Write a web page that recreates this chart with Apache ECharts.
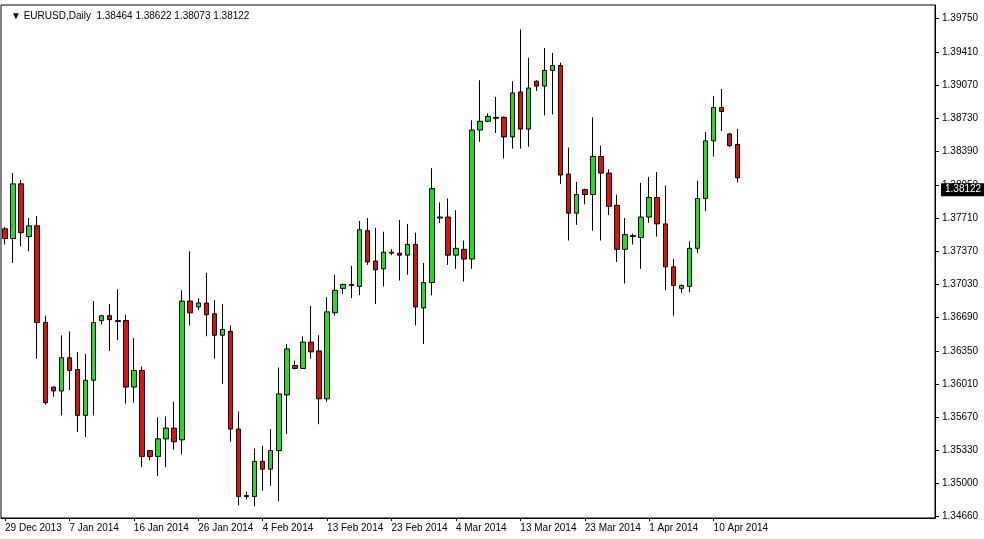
<!DOCTYPE html>
<html><head><meta charset="utf-8">
<script src="https://cdn.jsdelivr.net/npm/echarts@6/dist/echarts.min.js"></script>
<style>html,body{margin:0;padding:0;background:#fff}#c{width:984px;height:539px}</style>
</head><body><div id="c"></div>
<script>
const dates = ["29 Dec 2013","30 Dec 2013","31 Dec 2013","1 Jan 2014","2 Jan 2014","3 Jan 2014","5 Jan 2014","6 Jan 2014","7 Jan 2014","8 Jan 2014","9 Jan 2014","10 Jan 2014","12 Jan 2014","13 Jan 2014","14 Jan 2014","15 Jan 2014","16 Jan 2014","17 Jan 2014","19 Jan 2014","20 Jan 2014","21 Jan 2014","22 Jan 2014","23 Jan 2014","24 Jan 2014","26 Jan 2014","27 Jan 2014","28 Jan 2014","29 Jan 2014","30 Jan 2014","31 Jan 2014","2 Feb 2014","3 Feb 2014","4 Feb 2014","5 Feb 2014","6 Feb 2014","7 Feb 2014","9 Feb 2014","10 Feb 2014","11 Feb 2014","12 Feb 2014","13 Feb 2014","14 Feb 2014","16 Feb 2014","17 Feb 2014","18 Feb 2014","19 Feb 2014","20 Feb 2014","21 Feb 2014","23 Feb 2014","24 Feb 2014","25 Feb 2014","26 Feb 2014","27 Feb 2014","28 Feb 2014","2 Mar 2014","3 Mar 2014","4 Mar 2014","5 Mar 2014","6 Mar 2014","7 Mar 2014","9 Mar 2014","10 Mar 2014","11 Mar 2014","12 Mar 2014","13 Mar 2014","14 Mar 2014","16 Mar 2014","17 Mar 2014","18 Mar 2014","19 Mar 2014","20 Mar 2014","21 Mar 2014","23 Mar 2014","24 Mar 2014","25 Mar 2014","26 Mar 2014","27 Mar 2014","28 Mar 2014","30 Mar 2014","31 Mar 2014","1 Apr 2014","2 Apr 2014","3 Apr 2014","4 Apr 2014","6 Apr 2014","7 Apr 2014","8 Apr 2014","9 Apr 2014","10 Apr 2014","11 Apr 2014","13 Apr 2014","14 Apr 2014"];
const opens  = [1.3760,1.3750,1.3806,1.3752,1.3763,1.3664,1.3598,1.3594,1.3628,1.3616,1.3569,1.3605,1.3666,1.3671,1.3666,1.3666,1.3598,1.3615,1.3533,1.3527,1.3545,1.3556,1.3544,1.3686,1.3680,1.3684,1.3673,1.3651,1.3655,1.3555,1.3486,1.3486,1.3522,1.3514,1.3533,1.3590,1.3620,1.3617,1.3644,1.3635,1.3586,1.3674,1.3699,1.3703,1.3701,1.3758,1.3727,1.3719,1.3735,1.3735,1.3733,1.3744,1.3679,1.3705,1.3771,1.3772,1.3733,1.3739,1.3729,1.3861,1.3870,1.3874,1.3874,1.3854,1.3900,1.3862,1.3911,1.3906,1.3922,1.3927,1.3816,1.3776,1.3800,1.3795,1.3834,1.3817,1.3784,1.3739,1.3752,1.3751,1.3772,1.3792,1.3765,1.3721,1.3699,1.3701,1.3740,1.3791,1.3850,1.3884,1.3857,1.38464];
const closes = [1.3750,1.3806,1.3756,1.3763,1.3664,1.3582,1.3594,1.3628,1.3615,1.3569,1.3605,1.3664,1.3671,1.3667,1.3665,1.3598,1.3615,1.3527,1.3527,1.3545,1.3556,1.3542,1.3686,1.3674,1.3684,1.3672,1.3651,1.3657,1.3555,1.3486,1.3487,1.3522,1.3514,1.3533,1.3591,1.3637,1.3617,1.3644,1.3634,1.3586,1.3675,1.3697,1.3703,1.3702,1.3759,1.3726,1.3718,1.3736,1.3736,1.3733,1.3744,1.3680,1.3705,1.3801,1.3772,1.3733,1.3740,1.3729,1.3861,1.3870,1.3875,1.3873,1.3854,1.3899,1.3862,1.3904,1.3906,1.3922,1.3927,1.3815,1.3776,1.3795,1.3795,1.3834,1.3817,1.3783,1.3739,1.3754,1.3753,1.3772,1.3792,1.3765,1.3721,1.3702,1.3702,1.3740,1.3791,1.3850,1.3884,1.3880,1.3845,1.38122];
const lows   = [1.3744,1.3725,1.3742,1.3737,1.3627,1.3580,1.3588,1.3569,1.3595,1.3552,1.3547,1.3569,1.3662,1.3635,1.3646,1.3581,1.3582,1.3516,1.3523,1.3507,1.3516,1.3534,1.3529,1.3661,1.3677,1.3650,1.3627,1.3601,1.3542,1.3477,1.3483,1.3476,1.3492,1.3497,1.3481,1.3550,1.3616,1.3617,1.3627,1.3560,1.3583,1.3671,1.3693,1.3689,1.3692,1.3723,1.3683,1.3701,1.3733,1.3707,1.3713,1.3661,1.3642,1.3692,1.3766,1.3723,1.3719,1.3706,1.3719,1.3849,1.3869,1.3858,1.3832,1.3842,1.3842,1.3844,1.3901,1.3876,1.3877,1.3806,1.3748,1.3764,1.3785,1.3758,1.3748,1.3774,1.3726,1.3704,1.3744,1.3719,1.3766,1.3752,1.3697,1.3671,1.3694,1.3695,1.3735,1.3778,1.3834,1.3860,1.3844,1.38073];
const highs  = [1.3762,1.3817,1.3810,1.3771,1.3773,1.3671,1.3598,1.3651,1.3655,1.3634,1.3632,1.3686,1.3672,1.3683,1.3698,1.3672,1.3648,1.3619,1.3533,1.3567,1.3568,1.3583,1.3697,1.3737,1.3689,1.3715,1.3687,1.3683,1.3661,1.3573,1.3491,1.3535,1.3538,1.3555,1.3618,1.3642,1.3625,1.3650,1.3681,1.3651,1.3690,1.3713,1.3704,1.3722,1.3768,1.3771,1.3761,1.3757,1.3739,1.3769,1.3765,1.3756,1.3725,1.3822,1.3787,1.3791,1.3779,1.3748,1.3871,1.3912,1.3878,1.3895,1.3875,1.3911,1.3964,1.3935,1.3912,1.3945,1.3940,1.3930,1.3843,1.3808,1.3801,1.3874,1.3845,1.3821,1.3795,1.3771,1.3755,1.3807,1.3813,1.3818,1.3804,1.3729,1.3703,1.3747,1.3809,1.3859,1.3896,1.3903,1.3858,1.38622];
const priceTicks = [1.34660,1.35000,1.35330,1.35670,1.36010,1.36350,1.36690,1.37030,1.37370,1.37710,1.38050,1.38390,1.38730,1.39070,1.39410,1.39750];
const header = "EURUSD,Daily  1.38464 1.38622 1.38073 1.38122";
const lastPrice = 1.38122;

const totalSlots = 116;
const cats = dates.concat(new Array(totalSlots - dates.length).fill(''));
const ohlc = opens.map((o, i) => [o, closes[i], lows[i], highs[i]]);
const font = 'Liberation Sans, Arial, sans-serif';

const chart = echarts.init(document.getElementById('c'), null, {renderer: 'canvas'});
chart.setOption({
  animation: false,
  backgroundColor: '#fff',
  title: {text: '\u25BC ' + header, left: 6, top: 6,
    textStyle: {fontSize: 10, fontWeight: 'normal', color: '#000', fontFamily: font}},
  grid: {left: 1, right: 49, top: 5, bottom: 21, show: true, borderColor: '#000', borderWidth: 1},
  xAxis: {
    type: 'category', data: cats, boundaryGap: true,
    axisLine: {lineStyle: {color: '#000'}},
    axisTick: {show: true, alignWithLabel: true, length: 3, lineStyle: {color: '#000'},
      interval: (i) => i % 8 === 0 && i < dates.length},
    axisLabel: {interval: (i) => i % 8 === 0 && i < dates.length, align: 'left', margin: 5,
      color: '#000', fontSize: 10, fontFamily: font},
    splitLine: {show: false}
  },
  yAxis: {
    type: 'value', position: 'right', min: 1.3464, max: 1.3989, scale: true,
    axisLine: {show: true, lineStyle: {color: '#000'}},
    axisTick: {show: true, length: 4, lineStyle: {color: '#000'}, customValues: priceTicks},
    axisLabel: {color: '#000', fontSize: 10, fontFamily: font, margin: 7,
      customValues: priceTicks, formatter: (v) => v.toFixed(5)},
    splitLine: {show: false}
  },
  series: [{
    type: 'candlestick', data: ohlc, barWidth: 5, clip: false,
    itemStyle: {color: '#22dd22', color0: '#dd1111', borderColor: '#000', borderColor0: '#000', borderWidth: 1},
    markLine: {
      symbol: 'none', silent: true,
      lineStyle: {color: 'rgba(0,0,0,0)', width: 1, type: 'solid'},
      label: {show: true, position: 'end', formatter: lastPrice.toFixed(5), backgroundColor: '#000',
        color: '#fff', fontSize: 10, fontFamily: font, padding: [2, 4, 1, 4], distance: 6},
      data: [{yAxis: lastPrice}]
    }
  }]
});
</script></body></html>
